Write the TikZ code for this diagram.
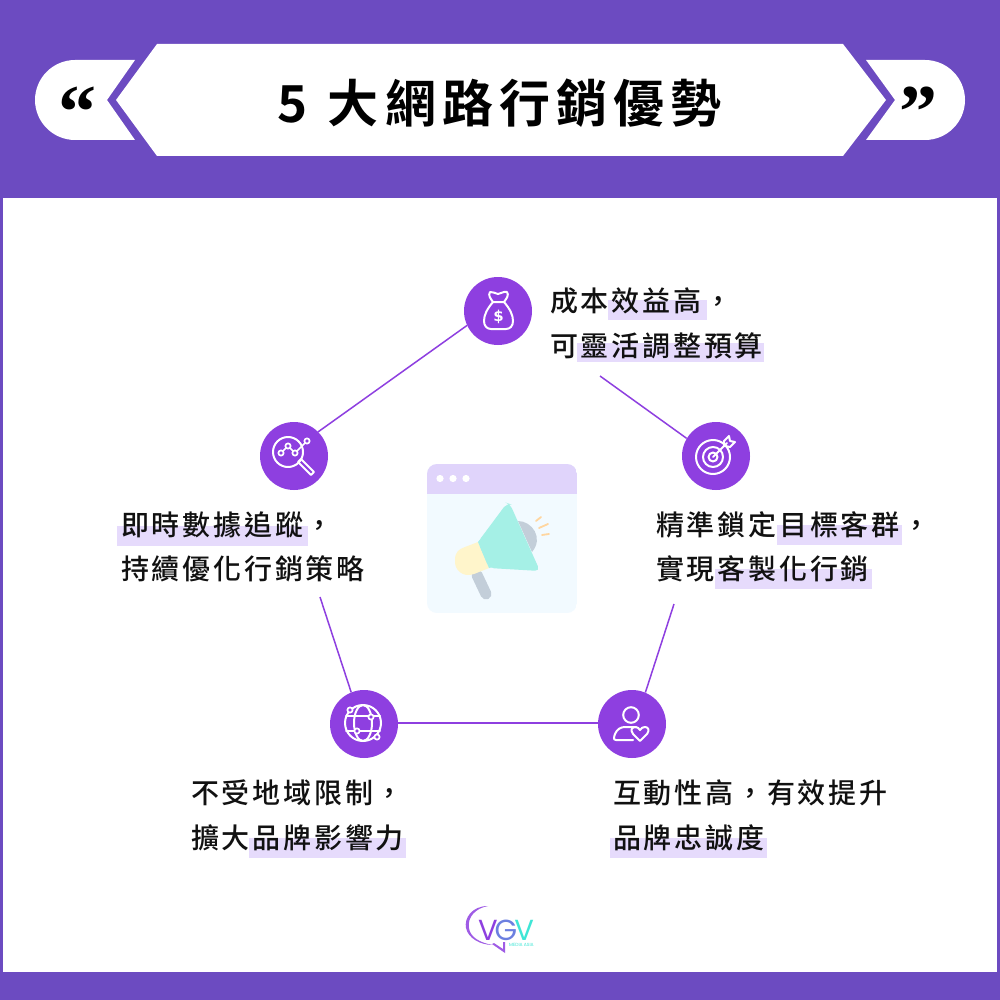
\documentclass[tikz,border=0pt]{standalone}
\usepackage{fontspec}
\setmainfont{Noto Sans CJK TC}
\newfontfamily\bodycjk[LetterSpace=10]{Noto Sans CJK TC Medium}
\newfontfamily\titlecjk[LetterSpace=12]{Noto Sans CJK TC Bold}
\newfontfamily\quotefont{Liberation Serif Bold}
\newfontfamily\logofont{Poppins}
\newfontfamily\iconfont{DejaVu Sans Bold}
\definecolor{cband}{HTML}{6C4BC1}
\definecolor{cdot}{HTML}{8E3FE0}
\definecolor{chilite}{HTML}{E6DBFC}
\definecolor{cink}{HTML}{111111}
\definecolor{cwinhead}{HTML}{E0D4FB}
\definecolor{cwinbody}{HTML}{F2FAFF}
\definecolor{ccone}{HTML}{A5F0E6}
\definecolor{ccap}{HTML}{FFF5CB}
\definecolor{cmetal}{HTML}{C3CED9}
\definecolor{cray}{HTML}{FFD6A0}
\definecolor{clogoteal}{HTML}{3FE6D6}
\definecolor{clogomid}{HTML}{6C7FE0}
\tikzset{
  iconcirc/.style={circle,fill=cdot,draw=none,minimum size=68pt,inner sep=0pt},
  link/.style={draw=cdot,line width=1.5pt},
  body/.style={anchor=base west,inner sep=0pt,text=cink,font=\fontsize{28}{32}\selectfont\bodycjk},
  glyphline/.style={draw=white,line width=2pt,line join=round,line cap=round,fill=none},
  hbar/.style={fill=chilite,draw=none},
  rayline/.style={draw=cray,line width=1.8pt,line cap=round},
}
\begin{document}
\begin{tikzpicture}[x=1pt,y=-1pt]
\useasboundingbox (0,0) rectangle (1000,1000);
\fill[cband] (0,0) rectangle (1000,1000);
\fill[white] (3,198) rectangle (997,972);
% header
\fill[white] (157,44) -- (843,44) -- (886,100) -- (843,156) -- (157,156) -- (116,100) -- cycle;
\fill[white] (135,60) -- (75,60) .. controls (53,60) and (35,78) .. (35,100) .. controls (35,122) and (53,140) .. (75,140) -- (135,140) -- (107,100) -- cycle;
\fill[white] (866,60) -- (925,60) .. controls (947,60) and (965,78) .. (965,100) .. controls (965,122) and (947,140) .. (925,140) -- (866,140) -- (895,100) -- cycle;
\node[inner sep=0pt,text=black,font=\fontsize{51}{56}\selectfont\titlecjk] (title) at (499.5,103) {5\hspace{3pt} 大網路行銷優勢};
\node[inner sep=0pt,text=black,font=\fontsize{76}{80}\selectfont\quotefont,anchor=base] (lq) at (77.5,138) {“};
\node[inner sep=0pt,text=black,font=\fontsize{76}{80}\selectfont\quotefont,anchor=base] (rq) at (918,138) {”};
% highlights
\fill[hbar] (608,300) rectangle (707,320);
\fill[hbar] (577,343) rectangle (764,362);
\fill[hbar] (117,526) rectangle (308,546);
\fill[hbar] (777,525) rectangle (902,545);
\fill[hbar] (715,569) rectangle (872,589);
\fill[hbar] (249,838) rectangle (406,858);
\fill[hbar] (610,838) rectangle (767,858);
% nodes
\node[iconcirc] (top) at (498,311) {};
\node[iconcirc] (left) at (294,456) {};
\node[iconcirc] (right) at (716,456) {};
\node[iconcirc] (bl) at (364,724) {};
\node[iconcirc] (br) at (632,724) {};
\coordinate (ta) at (600,376);
\coordinate (tb) at (320,597);
\coordinate (tc) at (674,604);
\draw[link] (top.205) -- (left.45);
\draw[link] (ta) -- (right.149);
\draw[link] (tb) -- (bl.112);
\draw[link] (tc) -- (br.67);
\draw[link] (bl.2) -- (br.178);
% texts
\node[body] (a1) at (550,311) {成本效益高，};
\node[body] (a2) at (550,356) {可靈活調整預算};
\node[body] (b1) at (121,535) {即時數據追蹤，};
\node[body] (b2) at (121,579) {持續優化行銷策略};
\node[body] (c1) at (656,535) {精準鎖定目標客群，};
\node[body] (c2) at (656,579) {實現客製化行銷};
\node[body] (d1) at (191,803) {不受地域限制，};
\node[body] (d2) at (191,848) {擴大品牌影響力};
\node[body] (e1) at (613,803) {互動性高，有效提升};
\node[body] (e2) at (613,848) {品牌忠誠度};
% central window
\begin{scope}
\clip[rounded corners=10pt] (427,464) rectangle (577,613);
\fill[cwinbody] (427,464) rectangle (577,613);
\fill[cwinhead] (427,464) rectangle (577,494);
\end{scope}
\foreach \px in {440,453,466} \fill[white] (\px,478.5) circle (3.6pt);
\draw[cmetal,line width=11pt,line cap=round] (477,575) -- (486,594);
\fill[cmetal] (518,521) .. controls (532,521) and (544,538) .. (532,552) -- cycle;
\fill[ccap] (478,542) -- (489,568) -- (474,574) .. controls (463,578) and (454,570) .. (455,560) .. controls (455,552) and (459,549) .. (465,547) -- cycle;
\fill[ccone,rounded corners=5pt] (478,542) -- (507,503) -- (510,504) -- (540,571) -- (489,568) -- cycle;
\fill[ccone] (478,542) -- (500,515) -- (525,560) -- (489,568) -- cycle;
\draw[rayline] (536,521) -- (541,517);
\draw[rayline] (539,528) -- (548,524);
\draw[rayline] (542,535) -- (549,534);
% money bag
\draw[glyphline] (493,302) .. controls (490,298) and (488,295) .. (490,292) .. controls (493,291) and (495,294) .. (498,294) .. controls (501,294) and (503,291) .. (507,292) .. controls (509,295) and (507,298) .. (504,302) -- cycle;
\draw[glyphline] (493,302) .. controls (487,309) and (484,315) .. (484,321) .. controls (484,326) and (487,329) .. (491,329) -- (506,329) .. controls (510,329) and (513,326) .. (513,321) .. controls (513,315) and (510,309) .. (504,302);
\node[inner sep=0pt,text=white,font=\fontsize{15}{18}\selectfont\iconfont] (dollar) at (498.5,317) {\$};
% analytics
\draw[glyphline] (288,452) circle (15pt);
\draw[glyphline] (298,462) -- (301,459) -- (314,472) -- (311,475) -- cycle;
\draw[glyphline,line width=1.7pt] (281,453) -- (288,446) -- (295,453) -- (307,441);
\foreach \qx/\qy in {281/453,288/446,295/453,307/441} \filldraw[draw=white,fill=cdot,line width=1.7pt] (\qx,\qy) circle (2.6pt);
% target
\draw[glyphline] (713,457) circle (17pt);
\draw[glyphline] (713,457) circle (10pt);
\draw[glyphline] (713,457) circle (4.5pt);
\draw[glyphline] (713,457) -- (727,443);
\draw[glyphline] (724,446) -- (724,441) -- (729,436) -- (730,441) -- (735,442) -- (730,447) -- (725,446);
% globe
\draw[glyphline] (363,723) circle (18pt);
\draw[glyphline] (363,723) ellipse (9pt and 18pt);
\draw[glyphline] (346,716) -- (380,716);
\draw[glyphline] (346,731) -- (380,731);
\foreach \qx/\qy in {350/710,371/717,357/731,377/737} \filldraw[draw=white,fill=cdot,line width=1.7pt] (\qx,\qy) circle (2.6pt);
% person heart
\draw[glyphline] (631,715) circle (7.8pt);
\draw[glyphline] (633,740) -- (616,740) .. controls (613,740) and (614,737) .. (615,734) .. controls (617,729) and (621,727) .. (625,727) -- (636,727);
\draw[glyphline,line join=round] (640,741) -- (633,734) .. controls (630,730) and (632,727) .. (635,727) .. controls (637,727) and (639,728) .. (640,730) .. controls (641,728) and (643,727) .. (645,727) .. controls (648,727) and (650,730) .. (647,734) -- cycle;
% logo
\fill[cdot!85] (488,906) .. controls (472,906) and (464,918) .. (466,928) .. controls (468,938) and (480,945) .. (493,945) .. controls (480,943) and (470,937) .. (469,928) .. controls (467,917) and (476,908) .. (488,906) -- cycle;
\fill[cdot!85] (492,944) -- (505,953) -- (505,942) -- (503,942) -- (503,949) -- (494,943) -- cycle;
\node[inner sep=0pt,font=\fontsize{29}{32}\selectfont\logofont,anchor=base,text depth=0pt] (vgv) at (506,940) {\textcolor{cdot}{V}\kern-3pt\textcolor{clogomid}{G}\kern-3pt\textcolor{clogoteal}{V}};
\node[inner sep=0pt,text=clogoteal,font=\fontsize{4.5}{5}\selectfont\logofont,anchor=north,text depth=0pt] (sub) at (521.5,943) {MEDIA ASIA};
\end{tikzpicture}
\end{document}
